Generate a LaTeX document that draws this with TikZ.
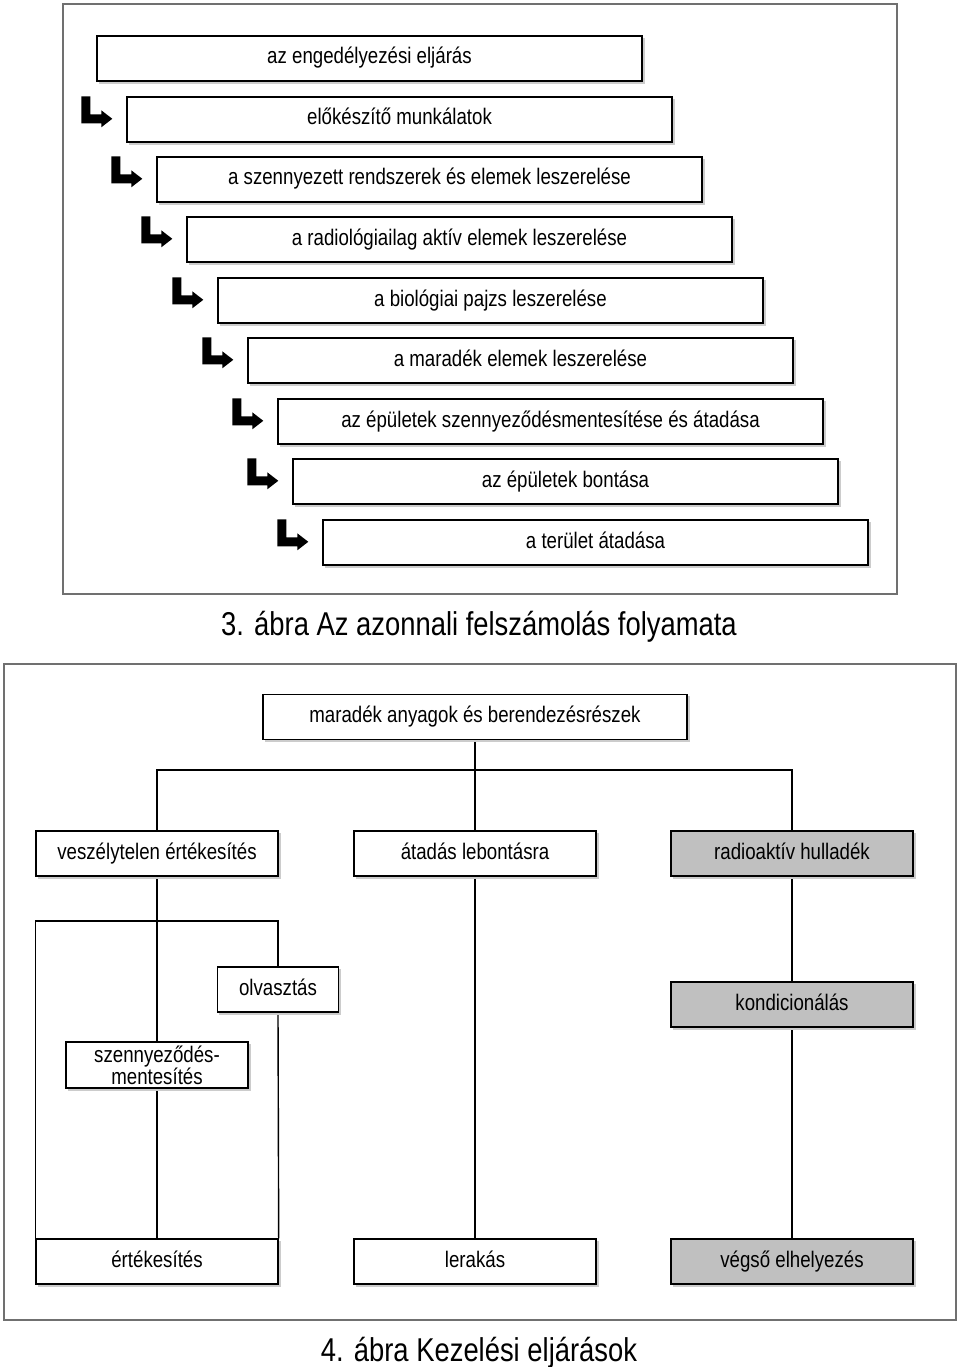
\documentclass[tikz,border=0pt]{standalone}
\usepackage{fontspec}
\setmainfont[FakeStretch=0.83]{Liberation Sans}
\usetikzlibrary{backgrounds}
\definecolor{boxgray}{HTML}{C0C0C0}
\definecolor{framegray}{HTML}{707070}
\tikzset{
  box/.style={draw=black, line width=1.4pt, fill=white, inner sep=0pt,
    minimum height=45pt, font=\fontsize{22.5}{22}\selectfont, align=center,
    preaction={draw=gray!40, line width=0.5pt, fill=gray!40,
      transform canvas={shift={(2.2pt,-2.2pt)}}}},
  oneline/.style={text height=16pt, text depth=5pt},
  topbox/.style={box, oneline, minimum width=545pt},
  bigbox/.style={box, oneline, minimum width=242pt},
  graybox/.style={bigbox, fill=boxgray},
  link/.style={draw=black, line width=1.4pt},
  frame/.style={draw=framegray, line width=1.3pt},
  caption/.style={font=\fontsize{33}{33}\selectfont, inner sep=0pt},
  bentarrow/.pic={\fill[black] (-45,0) -- (-36,0) -- (-36,18) -- (-25,18) -- (-25,14)
      -- (-14,22.5) -- (-25,31) -- (-25,27) -- (-45,27) -- cycle;}
}
\begin{document}
\begin{tikzpicture}[x=1pt, y=-1pt]
\useasboundingbox (0,0) rectangle (960,1367);
% ---------- figure 3 ----------
\draw[frame] (63,4) rectangle (897,594);
\node[topbox] (s1) at (369.5,58.5) {az engedélyezési eljárás};
\node[topbox] (s2) at (399.5,119.5) {előkészítő munkálatok};
\node[topbox] (s3) at (429.5,179.5) {a szennyezett rendszerek és elemek leszerelése};
\node[topbox] (s4) at (459.5,239.5) {a radiológiailag aktív elemek leszerelése};
\node[topbox] (s5) at (490.5,300.5) {a biológiai pajzs leszerelése};
\node[topbox] (s6) at (520.5,360.5) {a maradék elemek leszerelése};
\node[topbox] (s7) at (550.5,421.5) {az épületek szennyeződésmentesítése és átadása};
\node[topbox] (s8) at (565.5,481.5) {az épületek bontása};
\node[topbox] (s9) at (595.5,542.5) {a terület átadása};
\foreach \n in {s2,s3,s4,s5,s6,s7,s8,s9}
  \pic at (\n.north west) {bentarrow};
\node[caption] (cap3) at (479,627) {3. ábra Az azonnali felszámolás folyamata};
% ---------- figure 4 ----------
\draw[frame] (4,664) rectangle (956,1320);
\node[box, oneline, minimum width=424pt] (top) at (475,717) {maradék anyagok és berendezésrészek};
\node[bigbox] (a) at (157,853.5) {veszélytelen értékesítés};
\node[bigbox] (b) at (475,853.5) {átadás lebontásra};
\node[graybox] (c) at (792,853.5) {radioaktív hulladék};
\node[box, oneline, minimum width=121pt] (olv) at (278,989.5) {olvasztás};
\node[box, minimum width=182pt, minimum height=46pt] (szm) at (157,1065) {szennyeződés-\\mentesítés};
\node[graybox] (kond) at (792,1004.5) {kondicionálás};
\node[bigbox] (d) at (157,1261.5) {értékesítés};
\node[bigbox] (e) at (475,1261.5) {lerakás};
\node[graybox] (f) at (792,1261.5) {végső elhelyezés};
\coordinate (split) at (475,770);
\coordinate (fork) at (157,921);
\begin{pgfonlayer}{background}
\draw[link] (top.south) -- (b.north);
\draw[link] (a.north) |- (split) -| (c.north);
\draw[link] (a.south) -- (d.north);
\draw[link] (d.north west) |- (fork) -| (olv.north);
\draw[link] (olv.south) -- (d.north east);
\draw[link] (b.south) -- (e.north);
\draw[link] (c.south) -- (kond.north);
\draw[link] (kond.south) -- (f.north);
\end{pgfonlayer}
\node[caption] (cap4) at (479,1353) {4. ábra Kezelési eljárások};
\end{tikzpicture}
\end{document}
